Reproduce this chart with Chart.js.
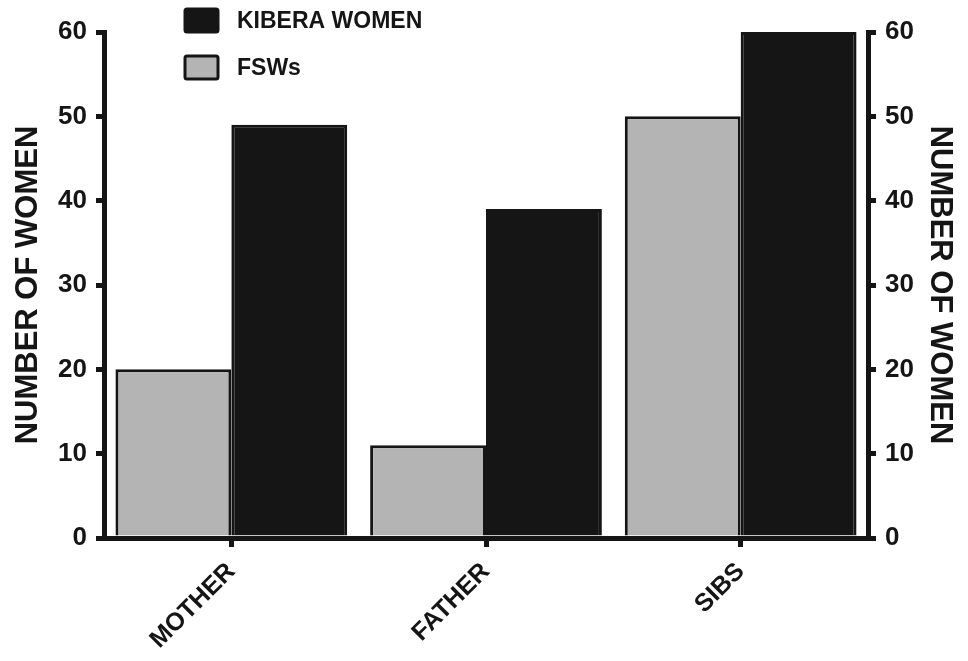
<!DOCTYPE html>
<html>
<head>
<meta charset="utf-8">
<script src="https://cdn.jsdelivr.net/npm/chart.js@4.4.0/dist/chart.umd.min.js"></script>
<style>
  html, body { margin: 0; padding: 0; background: #fff; }
  #wrap { width: 968px; height: 661px; }
</style>
</head>
<body>
<div id="wrap"><canvas id="chart"></canvas></div>
<script>
const categories = ['MOTHER', 'FATHER', 'SIBS'];
const fswValues = [20, 11, 50];
const kiberaValues = [49, 39, 60];
const yTicks = [0, 10, 20, 30, 40, 50, 60];

const ink = '#151515';
const grey = '#b4b4b4';
const fontFamily = '"Liberation Sans", Arial, sans-serif';

// legend drawn by hand: stacked vertically above the plot
const legendBoxes = {
    id: 'legendBoxes',
    afterDraw(chart) {
        const ctx = chart.ctx;
        const items = [
            { label: chart.data.datasets[1].label, fill: ink, y: 8 },
            { label: chart.data.datasets[0].label, fill: grey, y: 55 }
        ];
        ctx.save();
        items.forEach(it => {
            ctx.fillStyle = it.fill;
            ctx.strokeStyle = ink;
            ctx.lineWidth = 3;
            ctx.beginPath();
            ctx.roundRect(185, it.y + 1, 33, 23, 2);
            ctx.fill();
            ctx.stroke();
            ctx.fillStyle = ink;
            ctx.font = 'bold 23px ' + fontFamily;
            ctx.textBaseline = 'middle';
            ctx.fillText(it.label, 237, it.y + 14);
        });
        ctx.restore();
    }
};

const yAxis = (position) => ({
    position: position,
    min: 0,
    max: 60,
    afterBuildTicks: (scale) => { scale.ticks = yTicks.map(v => ({ value: v })); },
    afterFit: (scale) => { scale.width = position === 'left' ? 104 : 100; },
    border: { display: true, color: ink, width: 5 },
    grid: { display: true, drawOnChartArea: false, drawTicks: true, tickLength: 8, lineWidth: 5, color: ink },
    ticks: { color: ink, padding: 9, font: { family: fontFamily, size: 26, weight: 'bold' } },
    title: {
        display: true,
        text: 'NUMBER OF WOMEN',
        color: ink,
        padding: { top: 10, bottom: 0 },
        font: { family: fontFamily, size: 31, weight: 'bold' }
    }
});

new Chart(document.getElementById('chart').getContext('2d'), {
    type: 'bar',
    data: {
        labels: categories,
        datasets: [{
            label: 'FSWs',
            data: fswValues,
            backgroundColor: grey,
            borderColor: ink,
            borderWidth: 3,
            yAxisID: 'y'
        }, {
            label: 'KIBERA WOMEN',
            data: kiberaValues,
            backgroundColor: ink,
            borderColor: ink,
            borderWidth: 3,
            yAxisID: 'y'
        }]
    },
    options: {
        responsive: true,
        maintainAspectRatio: false,
        animation: false,
        layout: { padding: { top: 32, left: 0, right: 0, bottom: 0 } },
        datasets: { bar: { barPercentage: 1, categoryPercentage: 0.91 } },
        scales: {
            x: {
                afterFit: (scale) => { scale.height = 123; },
                border: { display: true, color: ink, width: 5 },
                grid: { display: true, offset: false, drawOnChartArea: false, drawTicks: true, tickLength: 9, lineWidth: 5, color: ink },
                ticks: { color: ink, padding: 10, minRotation: 45, maxRotation: 45, font: { family: fontFamily, size: 25, weight: 'bold' } }
            },
            y: yAxis('left'),
            y2: yAxis('right')
        },
        plugins: {
            legend: { display: false },
            tooltip: { enabled: false }
        }
    },
    plugins: [legendBoxes]
});
</script>
</body>
</html>
